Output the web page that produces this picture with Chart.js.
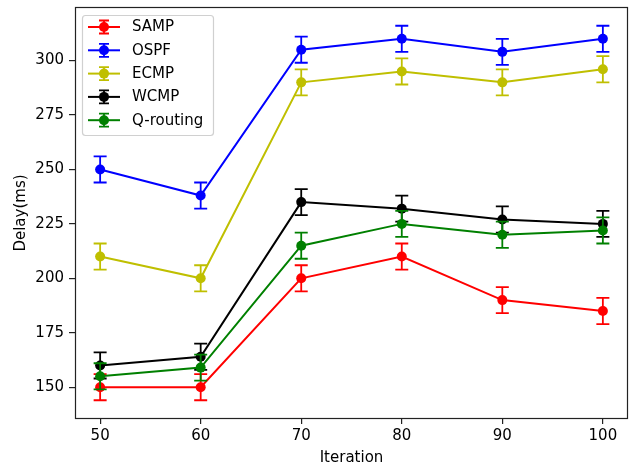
<!DOCTYPE html>
<html><head><meta charset="utf-8">
<script src="https://cdn.jsdelivr.net/npm/chart.js@4.4.0/dist/chart.umd.min.js"></script>
<style>html,body{margin:0;padding:0;background:#fff}#wrap{width:633px;height:469px}</style>
</head><body><div id="wrap"><canvas id="c" width="633" height="469"></canvas></div>
<script>
const iterations = [50, 60, 70, 80, 90, 100];
const seriesNames = ['SAMP', 'OSPF', 'ECMP', 'WCMP', 'Q-routing'];
const seriesColors = ['#ff0000', '#0000ff', '#bfbf00', '#000000', '#008000'];
const samp     = [150, 150, 200, 210, 190, 185];
const ospf     = [250, 238, 305, 310, 304, 310];
const ecmp     = [210, 200, 290, 295, 290, 296];
const wcmp     = [160, 164, 235, 232, 227, 225];
const qrouting = [155, 159, 215, 225, 220, 222];
const sampErr     = [6, 6, 6, 6, 6, 6];
const ospfErr     = [6, 6, 6, 6, 6, 6];
const ecmpErr     = [6, 6, 6, 6, 6, 6];
const wcmpErr     = [6, 6, 6, 6, 6, 6];
const qroutingErr = [6, 6, 6, 6, 6, 6];
const xTicks = [50, 60, 70, 80, 90, 100];
const yTicks = [150, 175, 200, 225, 250, 275, 300];

const allValues = [samp, ospf, ecmp, wcmp, qrouting];
const allErrors = [sampErr, ospfErr, ecmpErr, wcmpErr, qroutingErr];

const FONT = 'DejaVu Sans';
const FS = 15;
const datasets = seriesNames.map((name, k) => ({
  label: name,
  data: iterations.map((x, i) => ({x: x, y: allValues[k][i]})),
  errors: allErrors[k],
  borderColor: seriesColors[k],
  backgroundColor: seriesColors[k],
  pointBackgroundColor: seriesColors[k],
  pointBorderColor: seriesColors[k],
  pointRadius: 5,
  pointBorderWidth: 0,
  borderWidth: 2,
  tension: 0,
  order: seriesNames.length - k
}));

// axis limits with matplotlib-like 5% margins
const lo = Math.min(...allValues.map((v, k) => Math.min(...v.map((y, i) => y - allErrors[k][i]))));
const hi = Math.max(...allValues.map((v, k) => Math.max(...v.map((y, i) => y + allErrors[k][i]))));
const yMin = lo - (hi - lo) * 0.05, yMax = hi + (hi - lo) * 0.05;
const xMin = iterations[0] - (iterations[iterations.length-1] - iterations[0]) * 0.05;
const xMax = iterations[iterations.length-1] + (iterations[iterations.length-1] - iterations[0]) * 0.05;

function drawErr(ctx, x, y1, y2, cap) {
  ctx.beginPath();
  ctx.moveTo(x, y1); ctx.lineTo(x, y2);
  ctx.moveTo(x - cap, y1); ctx.lineTo(x + cap, y1);
  ctx.moveTo(x - cap, y2); ctx.lineTo(x + cap, y2);
  ctx.stroke();
}

const errorBars = {
  id: 'errorBars',
  afterDatasetDraw(chart, args) {
    const ds = chart.data.datasets[args.index];
    const ys = chart.scales.y;
    const ctx = chart.ctx;
    ctx.save();
    ctx.strokeStyle = ds.borderColor;
    ctx.lineWidth = 1.8;
    args.meta.data.forEach((pt, i) => {
      const v = ds.data[i].y, e = ds.errors[i];
      drawErr(ctx, pt.x, ys.getPixelForValue(v + e), ys.getPixelForValue(v - e), 6.5);
    });
    ctx.restore();
  }
};

const frameAndLegend = {
  id: 'frameAndLegend',
  afterDraw(chart) {
    const ctx = chart.ctx;
    const a = chart.chartArea;
    ctx.save();
    ctx.strokeStyle = '#222';
    ctx.lineWidth = 1.2;
    ctx.strokeRect(Math.round(a.left) + 0.5, Math.round(a.top) + 0.5,
                   Math.round(a.right - a.left) - 1, Math.round(a.bottom - a.top) - 1);
    // legend
    const bx = a.left + 7, by = a.top + 8, bw = 131, bh = 120;
    ctx.beginPath();
    if (ctx.roundRect) ctx.roundRect(bx + 0.5, by + 0.5, bw, bh, 3); else ctx.rect(bx + 0.5, by + 0.5, bw, bh);
    ctx.fillStyle = 'rgba(255,255,255,0.8)';
    ctx.fill();
    ctx.strokeStyle = '#d0d0d0';
    ctx.lineWidth = 1.2;
    ctx.stroke();
    ctx.font = FS + 'px "' + FONT + '"';
    ctx.textBaseline = 'middle';
    ctx.textAlign = 'left';
    chart.data.datasets.forEach((ds, k) => {
      const cy = by + 12 + k * 23.3;
      const x0 = bx + 6, x1 = bx + 38, xm = (x0 + x1) / 2;
      ctx.strokeStyle = ds.borderColor;
      ctx.fillStyle = ds.borderColor;
      ctx.lineWidth = 2;
      ctx.beginPath(); ctx.moveTo(x0, cy); ctx.lineTo(x1, cy); ctx.stroke();
      ctx.lineWidth = 1.8;
      drawErr(ctx, xm, cy - 6.5, cy + 6.5, 5);
      ctx.beginPath(); ctx.arc(xm, cy, 5, 0, Math.PI * 2); ctx.fill();
      ctx.fillStyle = '#000';
      ctx.fillText(ds.label, bx + 50, cy + 0.5);
    });
    ctx.restore();
  }
};

new Chart(document.getElementById('c'), {
  type: 'line',
  data: { datasets: datasets },
  options: {
    responsive: false,
    devicePixelRatio: 1,
    animation: false,
    layout: { padding: { left: 0, top: 7, right: 1, bottom: 0 } },
    plugins: { legend: { display: false }, tooltip: { enabled: false } },
    scales: {
      x: {
        type: 'linear', min: xMin, max: xMax,
        afterBuildTicks: s => { s.ticks = xTicks.map(v => ({value: v})); },
        afterFit: s => { s.height = 50; s.paddingLeft = 0; s.paddingRight = 0; s.paddingTop = 0; s.paddingBottom = 0; },
        border: { display: false },
        grid: { display: true, drawOnChartArea: false, drawTicks: true, tickLength: 5, lineWidth: 1.2, color: '#222', tickColor: '#222' },
        ticks: { color: '#000', font: { family: FONT, size: FS }, padding: 3, maxRotation: 0 },
        title: { display: true, text: 'Iteration', color: '#000', font: { family: FONT, size: FS }, padding: { top: 0, bottom: 2 } }
      },
      y: {
        type: 'linear', min: yMin, max: yMax,
        afterBuildTicks: s => { s.ticks = yTicks.map(v => ({value: v})); },
        afterFit: s => { s.width = 75; s.paddingTop = 0; s.paddingBottom = 0; s.paddingLeft = 0; s.paddingRight = 0; },
        border: { display: false },
        grid: { display: true, drawOnChartArea: false, drawTicks: true, tickLength: 6, lineWidth: 1.2, color: '#222', tickColor: '#222' },
        ticks: { color: '#000', font: { family: FONT, size: FS }, padding: 5 },
        title: { display: true, text: 'Delay(ms)', color: '#000', font: { family: FONT, size: FS }, padding: { top: 12, bottom: 0 } }
      }
    }
  },
  plugins: [errorBars, frameAndLegend]
});
</script></body></html>
